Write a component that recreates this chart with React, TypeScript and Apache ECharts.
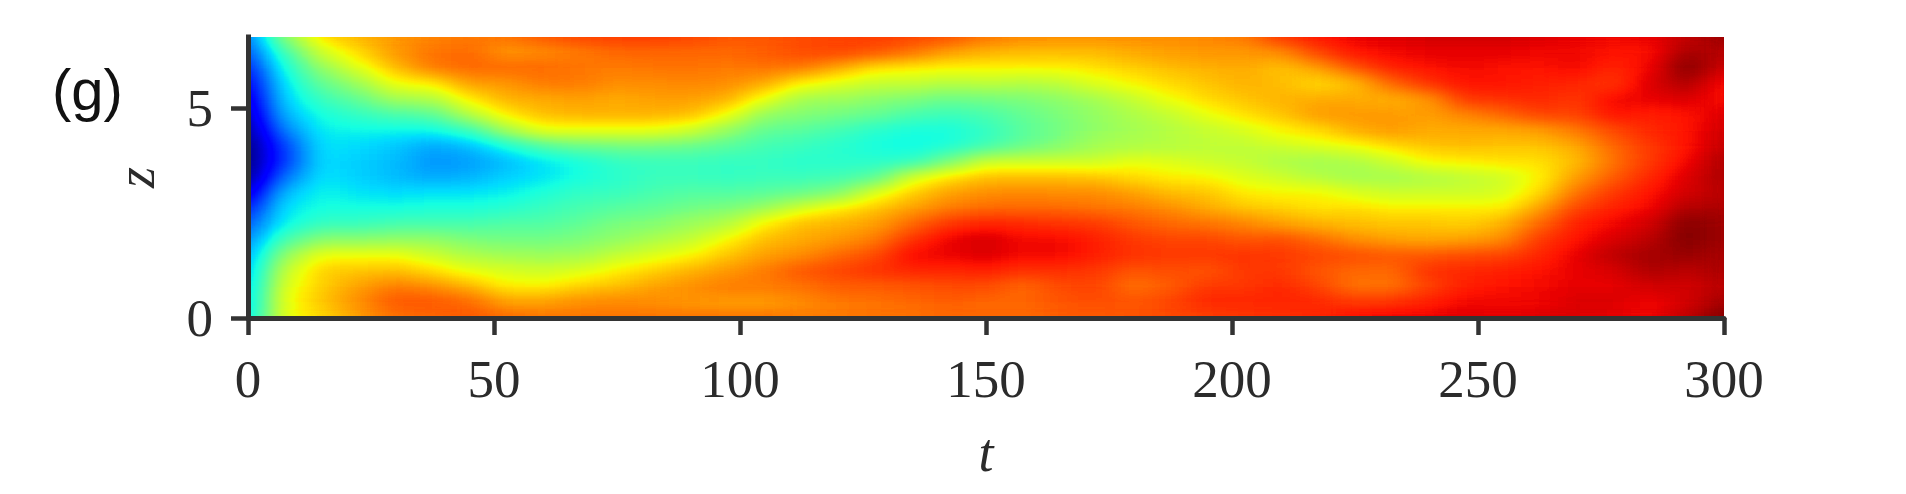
import React, { useEffect, useRef } from "react";
import * as echarts from "echarts";

// Field, on the jet scale 0-100. One profile per t (0, 7.5 ... 300), from z top to z = 0.
const tCategories = Array.from({ length: 41 }, (_, i) => String(i * 7.5));
const zCategories = Array.from({ length: 19 }, (_, j) => String(j));
const xTickLabels = [0, 50, 100, 150, 200, 250, 300];
const yTickValues = [0, 5];
const panelLabel = "(g)";
const heatProfiles = [
  [24,20,15,11,8,5,2,0,0,1,8,15,21,26,29,31,32,33,34],
  [52,43,38,35,33,30,25,19,18,24,31,35,37,44,53,59,62,63,63],
  [68,60,53,47,42,38,36,35,34,35,37,38,42,52,64,69,69,70,68],
  [72,68,62,54,47,41,37,34,33,33,35,38,42,52,64,70,74,76,74],
  [75,75,71,64,55,44,37,32,31,31,34,38,44,53,64,71,78,82,79],
  [77,79,78,66,56,46,37,29,27,29,35,39,44,53,60,68,76,82,80],
  [78,80,80,74,66,57,42,31,28,30,35,39,44,50,56,63,72,80,82],
  [79,75,80,75,72,66,55,38,31,33,36,40,45,49,55,61,66,74,80],
  [82,76,80,78,73,71,63,45,35,35,39,42,45,49,54,60,66,74,79],
  [84,78,79,78,74,72,63,48,38,38,41,44,47,50,55,62,69,76,79],
  [85,80,78,76,73,72,63,49,41,40,42,46,50,53,59,66,71,77,79],
  [85,80,79,76,74,72,63,49,42,42,44,47,51,56,62,69,74,76,79],
  [84,80,79,77,74,71,60,48,42,42,45,49,54,59,65,72,76,75,79],
  [82,80,78,76,72,64,53,46,41,41,45,50,57,65,70,75,78,74,79],
  [82,81,79,73,63,53,47,43,41,42,46,54,66,71,74,78,78,74,79],
  [83,83,78,65,55,51,46,42,40,42,48,61,71,73,76,82,79,76,78],
  [84,84,73,62,54,49,43,40,40,43,51,66,72,75,80,84,81,78,78],
  [85,82,67,59,52,47,40,38,40,46,62,70,74,78,83,86,81,79,79],
  [84,79,66,59,50,44,38,37,41,61,69,74,80,86,90,87,82,80,79],
  [83,74,65,57,48,42,38,39,50,67,74,78,86,91,91,87,83,81,80],
  [79,72,65,58,49,44,41,43,60,71,76,80,88,93,92,88,83,80,80],
  [77,71,65,57,50,47,46,48,60,71,77,80,87,90,90,86,80,80,80],
  [76,71,65,58,52,50,49,51,60,71,76,80,86,90,90,86,83,82,81],
  [76,71,67,62,55,53,53,55,60,70,76,79,85,88,88,85,84,83,81],
  [76,73,69,65,59,56,55,56,63,68,74,78,82,85,86,82,79,82,82],
  [76,74,71,68,64,59,57,57,62,66,71,76,80,84,85,83,81,84,83],
  [77,75,72,70,68,63,59,58,60,65,70,73,79,84,85,82,85,87,84],
  [78,75,73,72,70,67,61,58,59,62,66,70,77,82,86,85,85,87,85],
  [86,76,70,71,72,70,65,60,56,60,65,69,74,83,85,85,87,87,86],
  [89,84,74,68,73,75,68,62,55,57,65,67,72,80,84,82,84,87,87],
  [91,89,82,71,73,75,73,64,56,55,62,68,71,76,83,80,79,85,90],
  [92,90,88,80,72,75,75,68,60,55,60,66,70,74,82,80,79,86,91],
  [93,91,89,86,75,74,73,70,65,56,60,66,70,73,82,86,84,88,91],
  [93,91,90,89,85,77,73,71,66,58,60,66,69,74,83,87,88,90,92],
  [93,91,89,89,86,80,73,70,67,60,61,66,72,76,84,88,89,90,91],
  [92,90,89,88,87,84,74,70,67,65,68,74,80,85,87,89,90,90,92],
  [91,90,90,87,85,84,78,73,71,74,79,84,88,89,91,91,91,92,92],
  [90,89,87,85,90,89,83,80,79,81,85,88,90,92,95,92,91,92,91],
  [91,89,90,92,91,88,87,85,85,87,89,90,93,95,97,96,93,90,90],
  [94,97,100,96,92,89,89,89,90,92,93,96,100,100,98,95,93,93,95],
  [98,95,93,89,89,92,93,94,96,96,95,96,97,97,96,96,95,97,100],
];

const PLOT = { left: 248, top: 37, width: 1476, height: 281 };
const CELL_W = PLOT.width / (tCategories.length - 1);
const CELL_H = PLOT.height / (zCategories.length - 1);
const PAD = 70;

// Matplotlib jet, as filter lookup tables: the smoothing happens on the value, the colours after it.
function ramp(knots: number[][]): string {
  const out: string[] = [];
  for (let i = 0; i <= 255; i++) {
    const v = i / 255;
    let k = 0;
    while (k < knots.length - 2 && v > knots[k + 1][0]) k++;
    const [a, ya] = knots[k];
    const [b, yb] = knots[k + 1];
    const y = ya + ((yb - ya) * Math.min(1, Math.max(0, (v - a) / (b - a))));
    out.push(y.toFixed(3));
  }
  return out.join(" ");
}
const jetR = ramp([[0, 0], [0.35, 0], [0.66, 1], [0.89, 1], [1, 0.5]]);
const jetG = ramp([[0, 0], [0.125, 0], [0.375, 1], [0.64, 1], [0.91, 0], [1, 0]]);
const jetB = ramp([[0, 0.5], [0.11, 1], [0.34, 1], [0.65, 0], [1, 0]]);

const INK = "#2b2b2b";
const SERIF = "'Liberation Serif', serif";

export default function App() {
  const heatRef = useRef<HTMLDivElement>(null);
  const axesRef = useRef<HTMLDivElement>(null);

  useEffect(() => {
    document.body.style.margin = "0";
    document.body.style.background = "#fff";
    const heat = echarts.init(heatRef.current!, undefined, { renderer: "svg" });
    const axes = echarts.init(axesRef.current!, undefined, { renderer: "svg" });

    const data: number[][] = [];
    heatProfiles.forEach((profile, i) =>
      profile.forEach((v, j) => data.push([i, zCategories.length - 1 - j, v]))
    );

    heat.setOption({
      animation: false,
      grid: {
        left: PAD - CELL_W / 2,
        top: PAD - CELL_H / 2,
        width: CELL_W * tCategories.length,
        height: CELL_H * zCategories.length,
      },
      xAxis: { type: "category", data: tCategories, show: false },
      yAxis: { type: "category", data: zCategories, show: false },
      visualMap: {
        show: false,
        min: 0,
        max: 100,
        dimension: 2,
        inRange: { color: ["#000000", "#ffffff"] },
      },
      series: [{ type: "heatmap", data, progressive: 0, silent: true, itemStyle: { borderWidth: 0 } }],
    });

    axes.setOption({
      animation: false,
      backgroundColor: "transparent",
      grid: { left: PLOT.left, top: PLOT.top, width: PLOT.width, height: PLOT.height },
      xAxis: {
        type: "value",
        min: 0,
        max: 300,
        interval: 50,
        splitLine: { show: false },
        axisLine: { show: true, lineStyle: { color: "#333", width: 5 } },
        axisTick: { show: true, length: 17, lineStyle: { color: "#333", width: 4.5 } },
        axisLabel: {
          customValues: xTickLabels,
          color: INK,
          fontFamily: SERIF,
          fontSize: 53,
          margin: 34,
          hideOverlap: false,
        },
        name: "t",
        nameLocation: "middle",
        nameGap: 108,
        nameTextStyle: { color: INK, fontFamily: SERIF, fontStyle: "italic", fontSize: 54 },
      },
      yAxis: {
        type: "value",
        min: 0,
        max: 6.69,
        splitLine: { show: false },
        axisLine: { show: true, lineStyle: { color: "#333", width: 5, cap: "square" } },
        axisTick: { show: true, customValues: yTickValues, length: 17, lineStyle: { color: "#333", width: 4.5 } },
        axisLabel: {
          customValues: yTickValues,
          color: INK,
          fontFamily: SERIF,
          fontSize: 53,
          margin: 35,
          padding: [0, 0, 10, 0],
        },
        name: "z",
        nameLocation: "middle",
        nameGap: 85,
        nameRotate: 90,
        nameTextStyle: { color: INK, fontFamily: SERIF, fontStyle: "italic", fontSize: 54 },
      },
      graphic: [
        {
          type: "text",
          left: 52,
          top: 60,
          style: { text: panelLabel, fill: "#111", fontFamily: "'Liberation Sans', sans-serif", fontSize: 58 },
        },
      ],
      series: [{ type: "line", data: [], silent: true }],
    });

    return () => {
      heat.dispose();
      axes.dispose();
    };
  }, []);

  const heatW = CELL_W * tCategories.length + (PAD - CELL_W / 2) * 2;
  const heatH = CELL_H * zCategories.length + (PAD - CELL_H / 2) * 2;

  return (
    <div style={{ position: "relative", width: 1906, height: 494, overflow: "hidden", background: "#fff" }}>
      <svg width="0" height="0" style={{ position: "absolute" }}>
        <filter id="jetField" x="0" y="0" width="1" height="1" colorInterpolationFilters="sRGB" primitiveUnits="userSpaceOnUse">
          <feGaussianBlur stdDeviation="15 7" />
          <feComponentTransfer>
            <feFuncR type="table" tableValues={jetR} />
            <feFuncG type="table" tableValues={jetG} />
            <feFuncB type="table" tableValues={jetB} />
            <feFuncA type="linear" slope="40" />
          </feComponentTransfer>
        </filter>
      </svg>
      <div
        style={{
          position: "absolute",
          left: PLOT.left,
          top: PLOT.top,
          width: PLOT.width,
          height: PLOT.height,
          overflow: "hidden",
        }}
      >
        <div
          ref={heatRef}
          style={{
            position: "absolute",
            left: -PAD,
            top: -PAD,
            width: heatW,
            height: heatH,
            filter: "url(#jetField)",
          }}
        />
      </div>
      <div ref={axesRef} style={{ position: "absolute", left: 0, top: 0, width: 1906, height: 494 }} />
    </div>
  );
}
